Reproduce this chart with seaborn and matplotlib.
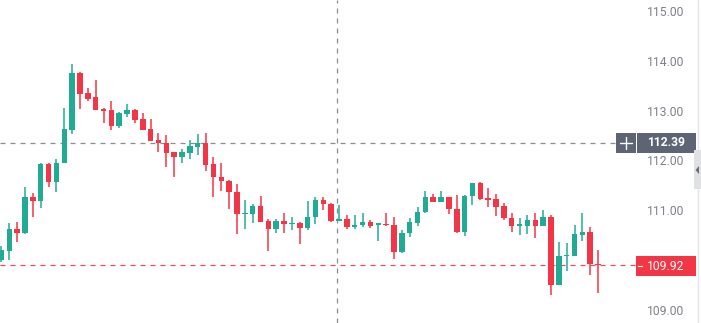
import matplotlib
matplotlib.use("Agg")
import matplotlib.pyplot as plt
from matplotlib.patches import Rectangle, Polygon
from matplotlib.transforms import blended_transform_factory
import seaborn as sns
import numpy as np

opens = [110.02, 110.20, 110.65, 110.57, 111.29, 111.22, 111.96, 111.59, 111.98, 112.65,
         113.80, 113.38, 113.30, 113.07, 113.05, 112.73, 112.96, 113.05, 112.87, 112.66,
         112.44, 112.38, 112.20, 112.11, 112.19, 112.31, 112.39, 111.96, 111.69, 111.62,
         111.40, 110.95, 110.95, 111.12, 110.81, 110.65, 110.81, 110.75, 110.77, 110.67,
         110.89, 111.24, 111.16, 110.82, 110.85, 110.70, 110.73, 110.79, 110.74, 110.76,
         110.73, 110.18, 110.57, 110.78, 110.99, 111.29, 111.20, 111.29, 111.05, 110.60,
         111.32, 111.57, 111.27, 111.25, 111.12, 110.88, 110.72, 110.72, 110.84, 110.72,
         110.90, 109.53, 110.11, 110.11, 110.54, 110.59, 109.94]
highs = [110.30, 110.78, 110.79, 111.50, 111.37, 111.97, 111.97, 112.06, 113.09, 113.97,
         113.82, 113.48, 113.65, 113.08, 113.22, 113.00, 113.16, 113.06, 112.98, 112.87,
         112.59, 112.55, 112.21, 112.26, 112.44, 112.57, 112.59, 112.10, 111.98, 111.63,
         111.56, 111.24, 111.16, 111.32, 110.86, 110.85, 110.97, 110.90, 110.80, 111.22,
         111.30, 111.29, 111.17, 111.14, 110.94, 110.94, 110.98, 110.83, 110.78, 110.98,
         110.90, 110.63, 110.87, 111.09, 111.42, 111.36, 111.42, 111.30, 111.34, 111.33,
         111.58, 111.59, 111.47, 111.36, 111.18, 110.98, 110.87, 110.94, 110.97, 111.04,
         110.94, 110.38, 110.37, 110.73, 110.98, 110.69, 110.23]
lows = [109.98, 110.03, 110.40, 110.56, 110.90, 111.07, 111.50, 111.39, 111.97, 112.57,
        113.06, 113.22, 113.04, 112.78, 112.65, 112.68, 112.90, 112.79, 112.64, 112.42,
        112.21, 111.90, 111.69, 111.98, 112.06, 112.14, 111.81, 111.29, 111.42, 111.05,
        110.55, 110.65, 110.78, 110.79, 110.21, 110.57, 110.57, 110.63, 110.35, 110.64,
        110.75, 111.04, 110.80, 110.81, 110.65, 110.65, 110.70, 110.67, 110.42, 110.72,
        110.04, 110.17, 110.50, 110.71, 110.98, 111.20, 111.19, 110.96, 110.58, 110.52,
        111.14, 111.24, 111.10, 110.92, 110.83, 110.60, 110.53, 110.55, 110.47, 110.71,
        109.33, 109.52, 109.80, 110.10, 110.42, 109.73, 109.36]
closes = [110.22, 110.65, 110.57, 111.30, 111.22, 111.96, 111.59, 111.98, 112.67, 113.80,
          113.36, 113.26, 113.05, 113.03, 112.73, 112.98, 113.05, 112.85, 112.65, 112.43,
          112.38, 112.19, 112.11, 112.20, 112.32, 112.39, 111.94, 111.69, 111.61, 111.39,
          110.95, 110.97, 111.12, 110.80, 110.65, 110.81, 110.75, 110.77, 110.67, 110.89,
          111.24, 111.15, 110.82, 110.85, 110.70, 110.73, 110.79, 110.72, 110.77, 110.73,
          110.18, 110.58, 110.79, 111.00, 111.29, 111.20, 111.29, 111.05, 110.60, 111.32,
          111.57, 111.25, 111.24, 111.10, 110.87, 110.72, 110.74, 110.84, 110.72, 110.89,
          109.53, 110.11, 110.13, 110.55, 110.59, 109.94, 109.92]
price_ticks = [109.0, 110.0, 111.0, 112.0, 113.0, 114.0, 115.0]
tick_labels = ["109.00", "", "111.00", "112.00", "113.00", "114.00", "115.00"]
last_price = 109.92
cross_price = 112.39
cross_index = 42.75

sns.set_theme(style="white")
plt.rcParams["font.family"] = ["Roboto", "DejaVu Sans"]

W, H = 701, 323
fig = plt.figure(figsize=(W / 100, H / 100), dpi=100)
fig.patch.set_facecolor("white")
ax = fig.add_axes([0, 0, 636 / W, 1])
ax.set_facecolor("white")
for s in ax.spines.values():
    s.set_visible(False)
ax.set_xticks([])
ax.set_yticks([])

GREEN = "#22ab94"
RED = "#f23645"

o = np.array(opens); c = np.array(closes)
h = np.array(highs); l = np.array(lows)
x = np.arange(len(o))
up = c >= o
cols = np.where(up, GREEN, RED)
bottoms = np.minimum(o, c)
heights = np.maximum(np.abs(c - o), 0.025)

ax.vlines(x, l, h, colors=cols, linewidth=1.1, zorder=2)
ax.bar(x, heights, bottom=bottoms, width=0.7, color=cols, linewidth=0, zorder=3)

ax.set_xlim(-0.19, 80.83)
ax.set_ylim(108.76, 115.26)

# last price line (red dashed)
ax.axhline(last_price, color=RED, linewidth=0.9, dashes=(4, 4), zorder=1, alpha=0.9)
# crosshair lines
xr = 616 / 636
ax.plot([-0.19, -0.19 + (80.83 + 0.19) * xr], [cross_price, cross_price],
        color="#8a8d96", linewidth=0.9, dashes=(4, 4), zorder=1)
ax.axvline(cross_index, color="#8a8d96", linewidth=0.9, dashes=(4, 4), zorder=1)

# price axis labels
tr = blended_transform_factory(fig.transFigure, ax.transData)
for p, lab in zip(price_ticks, tick_labels):
    if lab:
        fig.text(647 / W, p, lab, transform=tr, ha="left", va="center",
                 fontsize=8.7, color="#7e8189")

def px_rect(x0, y0, x1, y1, color, z=5):
    r = Rectangle((x0 / W, 1 - y1 / H), (x1 - x0) / W, (y1 - y0) / H,
                  transform=fig.transFigure, facecolor=color, edgecolor="none", zorder=z)
    fig.add_artist(r)

def px_line(x0, y0, x1, y1, color, lw=1.0, z=6):
    fig.add_artist(plt.Line2D([x0 / W, x1 / W], [1 - y0 / H, 1 - y1 / H],
                              transform=fig.transFigure, color=color, linewidth=lw, zorder=z))

# crosshair price label
px_rect(616, 133, 635.5, 153, "#5d6575")
px_rect(636.5, 133, 696, 153, "#5d6575")
px_line(620, 143, 632, 143, "white", 1.0)
px_line(626, 137, 626, 149, "white", 1.0)
fig.text(647 / W, 1 - 143 / H, f"{cross_price:.2f}", ha="left", va="center",
         fontsize=8.7, color="white", fontweight="bold", zorder=6)

# last price label
px_rect(636, 256, 696, 276, RED)
fig.text(647 / W, 1 - 266 / H, f"{last_price:.2f}", ha="left", va="center",
         fontsize=8.7, color="white", zorder=6)
px_line(637.5, 266, 641.5, 266, "white", 0.9)

# right edge border & scroll tab
px_line(697.5, 0, 697.5, H, "#e3e4e8", 1.0, 4)
px_rect(694, 150, 701, 189, "#e0e1e5")
tri = Polygon([[699 / W, 1 - 166 / H], [699 / W, 1 - 174 / H], [695.5 / W, 1 - 170 / H]],
              closed=True, transform=fig.transFigure, facecolor="#6a6d78",
              edgecolor="none", zorder=6)
fig.add_artist(tri)

fig.savefig("out.png", dpi=100, facecolor="white")
